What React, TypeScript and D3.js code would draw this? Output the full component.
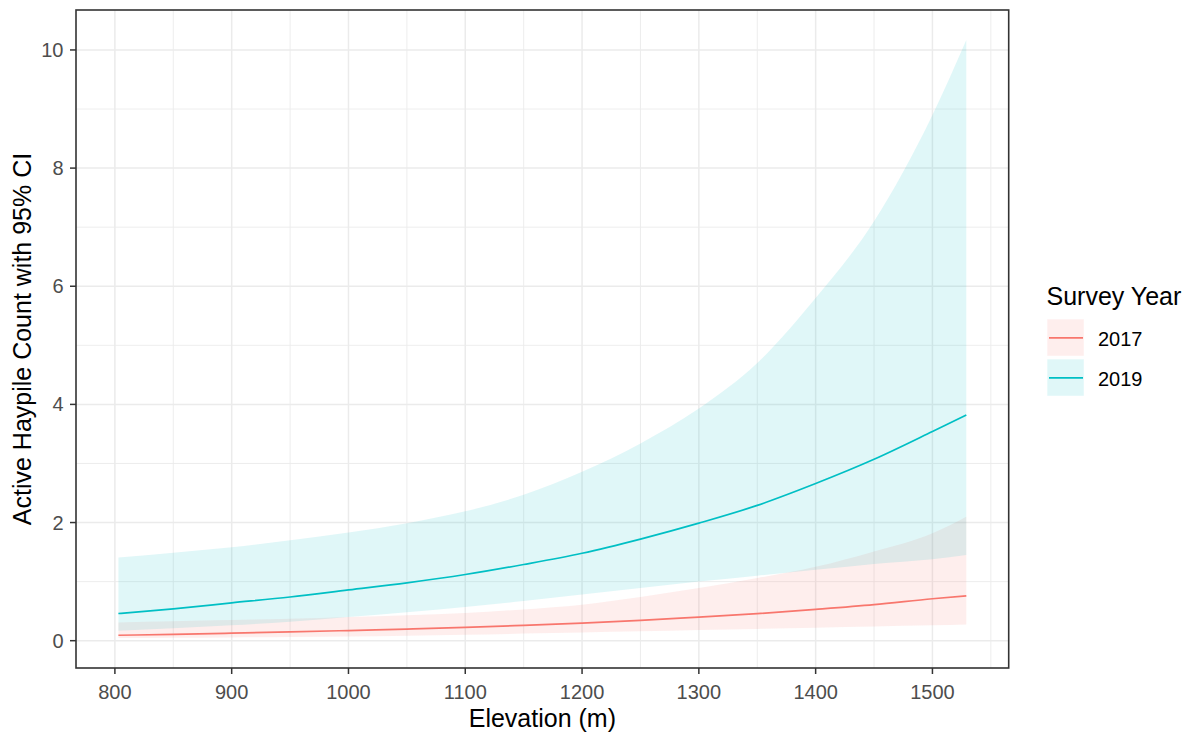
import React from 'react';
import * as d3 from 'd3';

// Elevation (m) at which predictions were read
const elevation = [803, 850, 900, 950, 1000, 1050, 1100, 1150, 1200, 1250, 1300, 1350, 1400, 1450, 1500, 1529];

// Survey year 2017
const fit2017 = [0.092, 0.106, 0.127, 0.148, 0.172, 0.197, 0.226, 0.26, 0.296, 0.343, 0.4, 0.458, 0.53, 0.61, 0.71, 0.76];
const lower2017 = [0.044, 0.048, 0.055, 0.063, 0.072, 0.085, 0.1, 0.12, 0.14, 0.16, 0.183, 0.2, 0.22, 0.24, 0.26, 0.275];
const upper2017 = [0.31, 0.33, 0.35, 0.37, 0.4, 0.43, 0.47, 0.53, 0.61, 0.74, 0.89, 1.06, 1.25, 1.51, 1.82, 2.1];

// Survey year 2019
const fit2019 = [0.46, 0.54, 0.64, 0.74, 0.86, 0.98, 1.12, 1.29, 1.48, 1.72, 1.99, 2.29, 2.66, 3.07, 3.54, 3.82];
const lower2019 = [0.17, 0.21, 0.26, 0.32, 0.4, 0.48, 0.57, 0.67, 0.78, 0.89, 1.0, 1.1, 1.2, 1.3, 1.38, 1.45];
const upper2019 = [1.41, 1.49, 1.58, 1.7, 1.83, 1.99, 2.19, 2.47, 2.86, 3.34, 3.93, 4.7, 5.8, 7.1, 8.9, 10.17];

const years = ['2017', '2019'];
const colors = ['#F8766D', '#00BFC4'];

const xTicks = [800, 900, 1000, 1100, 1200, 1300, 1400, 1500];
const yTicks = [0, 2, 4, 6, 8, 10];

const W = 1199;
const H = 737;
const P = { left: 76, right: 1008.7, top: 10, bottom: 668 };
const FONT = '"Liberation Sans", Arial, Helvetica, sans-serif';
const FILL_ALPHA = 0.12;

function expand(ext: [number, number]): [number, number] {
  const r = ext[1] - ext[0];
  return [ext[0] - r * 0.05, ext[1] + r * 0.05];
}

export default function App() {
  const x = d3.scaleLinear().domain(expand(d3.extent(elevation) as [number, number])).range([P.left, P.right]);
  const allY = [...lower2017, ...upper2017, ...lower2019, ...upper2019];
  const y = d3.scaleLinear().domain(expand(d3.extent(allY) as [number, number])).range([P.bottom, P.top]);

  const series = [
    { fit: fit2017, lo: lower2017, hi: upper2017 },
    { fit: fit2019, lo: lower2019, hi: upper2019 },
  ];

  const line = d3
    .line<number>()
    .x((_, i) => x(elevation[i]))
    .y((d) => y(d))
    .curve(d3.curveMonotoneX);

  const xd = x.domain();
  const yd = y.domain();
  const xMinor: number[] = [];
  for (let v = xTicks[0] - 50; v <= xd[1]; v += 100) if (v >= xd[0]) xMinor.push(v);
  const yMinor: number[] = [];
  for (let v = yTicks[0] - 1; v <= yd[1]; v += 2) if (v >= yd[0]) yMinor.push(v);

  return (
    <svg width={W} height={H} style={{ position: 'absolute', left: 0, top: 0, background: '#fff' }} fontFamily={FONT}>
      <rect x={0} y={0} width={W} height={H} fill="#fff" />
      <clipPath id="panel">
        <rect x={P.left} y={P.top} width={P.right - P.left} height={P.bottom - P.top} />
      </clipPath>
      {/* grid */}
      <g stroke="#EBEBEB">
        {xMinor.map((v) => (
          <line key={'xm' + v} x1={x(v)} x2={x(v)} y1={P.top} y2={P.bottom} strokeWidth={0.9} />
        ))}
        {yMinor.map((v) => (
          <line key={'ym' + v} y1={y(v)} y2={y(v)} x1={P.left} x2={P.right} strokeWidth={0.9} />
        ))}
        {xTicks.map((v) => (
          <line key={'xM' + v} x1={x(v)} x2={x(v)} y1={P.top} y2={P.bottom} strokeWidth={1.5} />
        ))}
        {yTicks.map((v) => (
          <line key={'yM' + v} y1={y(v)} y2={y(v)} x1={P.left} x2={P.right} strokeWidth={1.5} />
        ))}
      </g>
      {/* ribbons */}
      <g clipPath="url(#panel)">
        {series.map((s, k) => {
          const area = d3
            .area<number>()
            .x((_, i) => x(elevation[i]))
            .y0((d) => y(d))
            .y1((_, i) => y(s.hi[i]))
            .curve(d3.curveMonotoneX);
          return <path key={'r' + k} d={area(s.lo) || ''} fill={colors[k]} fillOpacity={FILL_ALPHA} />;
        })}
        {series.map((s, k) => (
          <path key={'l' + k} d={line(s.fit) || ''} fill="none" stroke={colors[k]} strokeWidth={1.7} />
        ))}
      </g>
      {/* border */}
      <rect
        x={P.left}
        y={P.top}
        width={P.right - P.left}
        height={P.bottom - P.top}
        fill="none"
        stroke="#333333"
        strokeWidth={1.6}
      />
      {/* axes ticks */}
      <g stroke="#333333" strokeWidth={1.5}>
        {xTicks.map((v) => (
          <line key={'xt' + v} x1={x(v)} x2={x(v)} y1={P.bottom} y2={P.bottom + 6} />
        ))}
        {yTicks.map((v) => (
          <line key={'yt' + v} x1={P.left - 6} x2={P.left} y1={y(v)} y2={y(v)} />
        ))}
      </g>
      <g fill="#4D4D4D" fontSize={20}>
        {xTicks.map((v) => (
          <text key={'xl' + v} x={x(v)} y={692} textAnchor="middle" dominantBaseline="central">
            {v}
          </text>
        ))}
        {yTicks.map((v) => (
          <text key={'yl' + v} x={63.5} y={y(v)} textAnchor="end" dominantBaseline="central">
            {v}
          </text>
        ))}
      </g>
      <text x={(P.left + P.right) / 2} y={718} textAnchor="middle" dominantBaseline="central" fontSize={25} fill="#000">
        Elevation (m)
      </text>
      <text
        transform={`translate(22,${(P.top + P.bottom) / 2}) rotate(-90)`}
        textAnchor="middle"
        dominantBaseline="central"
        fontSize={25}
        fill="#000"
      >
        Active Haypile Count with 95% CI
      </text>
      {/* legend */}
      <text x={1046.5} y={296} dominantBaseline="central" fontSize={25} fill="#000">
        Survey Year
      </text>
      {years.map((yr, k) => {
        const ky = 319.3 + k * 40;
        return (
          <g key={'lg' + yr}>
            <rect x={1047.3} y={ky} width={36.5} height={36.5} fill={colors[k]} fillOpacity={FILL_ALPHA} />
            <line x1={1049} x2={1083} y1={ky + 18.5} y2={ky + 18.5} stroke={colors[k]} strokeWidth={1.7} />
            <text x={1098} y={ky + 19.5} dominantBaseline="central" fontSize={20} fill="#000">
              {yr}
            </text>
          </g>
        );
      })}
    </svg>
  );
}
